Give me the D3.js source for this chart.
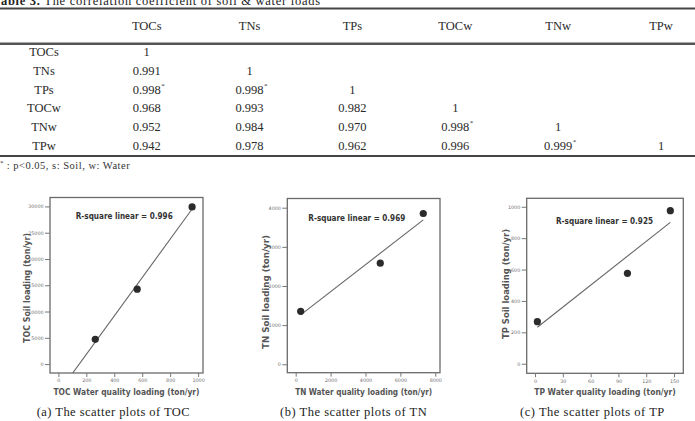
<!DOCTYPE html>
<html>
<head>
<meta charset="utf-8">
<script src="https://cdn.jsdelivr.net/npm/d3@7"></script>
<style>
  body { margin: 0; background: #fff; }
  svg { display: block; }
</style>
</head>
<body>
<div></div>
<script>
// table values
var tableVars = ["TOCs", "TNs", "TPs", "TOCw", "TNw", "TPw"];
var corr = [
  ["1"],
  ["0.991", "1"],
  ["0.998*", "0.998*", "1"],
  ["0.968", "0.993", "0.982", "1"],
  ["0.952", "0.984", "0.970", "0.998*", "1"],
  ["0.942", "0.978", "0.962", "0.996", "0.999*", "1"]
];

// scatter values (water quality loading vs soil loading, ton/yr)
var tocWater = [264, 564, 957];
var tocSoil = [4700, 14250, 29900];
var tnWater = [287, 4848, 7312];
var tnSoil = [1352, 2584, 3852];
var tpWater = [2.5, 99.7, 146];
var tpSoil = [268, 576, 975];

var rSquare = ["0.996", "0.969", "0.925"];
var names = ["TOC", "TN", "TP"];
var captions = ["(a) The scatter plots of TOC", "(b) The scatter plots of TN", "(c) The scatter plots of TP"];

// axis ticks and ranges
var tocXTicks = [0, 200, 400, 600, 800, 1000];
var tocYTicks = [0, 5000, 10000, 15000, 20000, 25000, 30000];
var tnXTicks = [0, 2000, 4000, 6000, 8000];
var tnYTicks = [0, 1000, 2000, 3000, 4000];
var tpXTicks = [0, 30, 60, 90, 120, 150];
var tpYTicks = [0, 200, 400, 600, 800, 1000];
var tocXDomain = [-60, 1035], tocYDomain = [-1700, 31700];
var tnXDomain = [-480, 8270], tnYDomain = [-215, 4235];
var tpXDomain = [-9, 160], tpYDomain = [-61, 1054];

var width = 695, height = 421;

var svg = d3.select("body").select("div").append("svg")
    .attr("width", width)
    .attr("height", height)
    .style("background", "#fff");

var serif = "'Liberation Serif', 'Times New Roman', serif";
var sans = "'DejaVu Sans', Arial, sans-serif";

// title (cut off at the top, as in the source page)
var title = svg.append("text")
    .attr("x", -7)
    .attr("y", 4.5)
    .attr("font-family", serif)
    .attr("font-size", 12.5)
    .attr("fill", "#222")
    .attr("textLength", 327)
    .attr("lengthAdjust", "spacing");
title.append("tspan").attr("font-weight", "bold").text("Table 3.");
title.append("tspan").text(" The correlation coefficient of soil & water loads");

// table rules
svg.append("line").attr("x1", 0).attr("x2", width).attr("y1", 8.5).attr("y2", 8.5)
    .attr("stroke", "#444").attr("stroke-width", 2);
svg.append("line").attr("x1", 0).attr("x2", width).attr("y1", 43.8).attr("y2", 43.8)
    .attr("stroke", "#555").attr("stroke-width", 2.6);
svg.append("line").attr("x1", 0).attr("x2", width).attr("y1", 156).attr("y2", 156)
    .attr("stroke", "#444").attr("stroke-width", 2);

var colX = d3.scalePoint().domain(tableVars).range([146.7, 661]);
var rowY = d3.scalePoint().domain(tableVars).range([53.5, 146.7]);

// header
svg.append("g").selectAll("text")
    .data(tableVars)
    .join("text")
    .attr("x", function(d) { return colX(d); })
    .attr("y", 27)
    .attr("text-anchor", "middle")
    .attr("dominant-baseline", "middle")
    .attr("font-family", serif)
    .attr("font-size", 12.5)
    .attr("fill", "#2a2a2a")
    .text(function(d) { return d; });

// row labels
svg.append("g").selectAll("text")
    .data(tableVars)
    .join("text")
    .attr("x", 44)
    .attr("y", function(d) { return rowY(d); })
    .attr("text-anchor", "middle")
    .attr("dominant-baseline", "middle")
    .attr("font-family", serif)
    .attr("font-size", 12.5)
    .attr("fill", "#2a2a2a")
    .text(function(d) { return d; });

// cells
var cells = [];
corr.forEach(function(row, i) {
  row.forEach(function(v, j) {
    cells.push({row: tableVars[i], col: tableVars[j], value: v.replace("*", ""), star: v.indexOf("*") >= 0});
  });
});
var cellG = svg.append("g").selectAll("g")
    .data(cells)
    .join("g")
    .attr("transform", function(d) { return "translate(" + colX(d.col) + "," + rowY(d.row) + ")"; });
cellG.append("text")
    .attr("text-anchor", "middle")
    .attr("dominant-baseline", "middle")
    .attr("font-family", serif)
    .attr("font-size", 12.5)
    .attr("fill", "#2a2a2a")
    .text(function(d) { return d.value; });
cellG.filter(function(d) { return d.star; })
    .append("text")
    .attr("x", 14.5)
    .attr("y", -3)
    .attr("font-family", serif)
    .attr("font-size", 7)
    .attr("fill", "#333")
    .text("*");

// footnote
svg.append("text")
    .attr("x", 0)
    .attr("y", 165)
    .attr("font-family", serif)
    .attr("font-size", 7)
    .attr("fill", "#333")
    .text("*");
svg.append("text")
    .attr("x", 6.7)
    .attr("y", 168.5)
    .attr("font-family", serif)
    .attr("font-size", 10.5)
    .attr("fill", "#333")
    .attr("textLength", 123)
    .attr("lengthAdjust", "spacing")
    .text(": p<0.05, s: Soil, w: Water");

// scatter panels
var panels = [
  {water: tocWater, soil: tocSoil, xTicks: tocXTicks, yTicks: tocYTicks, xDomain: tocXDomain, yDomain: tocYDomain,
   frame: [50, 197.5, 203, 373], fitFromAxis: true, r2At: [75.7, 216], ylabX: 27, ylabY: 288, ylabLen: 110, xlabLen: 146, capX: 36.7, capLen: 153},
  {water: tnWater, soil: tnSoil, xTicks: tnXTicks, yTicks: tnYTicks, xDomain: tnXDomain, yDomain: tnYDomain,
   frame: [287.3, 198.5, 440, 372.7], fitFromAxis: false, r2At: [308.3, 218], ylabX: 266.7, ylabY: 292, ylabLen: 114, xlabLen: 137, capX: 280, capLen: 146.7},
  {water: tpWater, soil: tpSoil, xTicks: tpXTicks, yTicks: tpYTicks, xDomain: tpXDomain, yDomain: tpYDomain,
   frame: [526.7, 198.3, 683.3, 373.3], fitFromAxis: false, r2At: [556, 221], ylabX: 506.7, ylabY: 284, ylabLen: 110, xlabLen: 141.6, capX: 520, capLen: 144.3}
];

panels.forEach(function(p, k) {
  var f = p.frame;
  var x = d3.scaleLinear().domain(p.xDomain).range([f[0], f[2]]);
  var y = d3.scaleLinear().domain(p.yDomain).range([f[3], f[1]]);
  var g = svg.append("g");

  // clip
  g.append("clipPath").attr("id", "clip" + k)
    .append("rect")
    .attr("x", f[0]).attr("y", f[1])
    .attr("width", f[2] - f[0]).attr("height", f[3] - f[1]);

  // frame
  g.append("rect")
    .attr("x", f[0]).attr("y", f[1])
    .attr("width", f[2] - f[0]).attr("height", f[3] - f[1])
    .attr("fill", "none")
    .attr("stroke", "#6a6a6a")
    .attr("stroke-width", 1.3);

  // axes
  var xAxis = g.append("g")
    .attr("transform", "translate(0," + f[3] + ")")
    .call(d3.axisBottom(x).tickValues(p.xTicks).tickSize(4).tickPadding(2).tickFormat(d3.format("d")));
  var yAxis = g.append("g")
    .attr("transform", "translate(" + f[0] + ",0)")
    .call(d3.axisLeft(y).tickValues(p.yTicks).tickSize(5).tickPadding(1.5).tickFormat(d3.format("d")));
  [xAxis, yAxis].forEach(function(a) {
    a.select(".domain").remove();
    a.selectAll("line").attr("stroke", "#777");
    a.selectAll("text").attr("fill", "#6e6e6e").attr("font-family", sans).attr("font-size", 4.8);
  });

  // least squares fit
  var mx = d3.mean(p.water), my = d3.mean(p.soil);
  var sxy = d3.sum(p.water, function(v, i) { return (v - mx) * (p.soil[i] - my); });
  var sxx = d3.sum(p.water, function(v) { return (v - mx) * (v - mx); });
  var slope = sxy / sxx, icpt = my - slope * mx;
  var x0 = p.fitFromAxis ? p.xDomain[0] : d3.min(p.water);
  var x1 = d3.max(p.water);
  g.append("line")
    .attr("clip-path", "url(#clip" + k + ")")
    .attr("x1", x(x0)).attr("y1", y(icpt + slope * x0))
    .attr("x2", x(x1)).attr("y2", y(icpt + slope * x1))
    .attr("stroke", "#666")
    .attr("stroke-width", 1.1);

  // points
  g.selectAll("circle")
    .data(p.water)
    .join("circle")
    .attr("cx", function(d) { return x(d); })
    .attr("cy", function(d, i) { return y(p.soil[i]); })
    .attr("r", 3.6)
    .attr("fill", "#2b2b2b");

  // R-square label
  g.append("text")
    .attr("x", p.r2At[0])
    .attr("y", p.r2At[1])
    .attr("dominant-baseline", "middle")
    .attr("font-family", sans)
    .attr("font-weight", "bold")
    .attr("font-size", 8.5)
    .attr("fill", "#333")
    .attr("textLength", 97)
    .attr("lengthAdjust", "spacingAndGlyphs")
    .text("R-square linear = " + rSquare[k]);

  // axis titles
  g.append("text")
    .attr("x", (f[0] + f[2]) / 2)
    .attr("y", 392)
    .attr("text-anchor", "middle")
    .attr("dominant-baseline", "middle")
    .attr("font-family", sans)
    .attr("font-weight", "bold")
    .attr("font-size", 8.5)
    .attr("fill", "#555")
    .attr("textLength", p.xlabLen)
    .attr("lengthAdjust", "spacingAndGlyphs")
    .text(names[k] + " Water quality loading (ton/yr)");
  g.append("text")
    .attr("transform", "translate(" + p.ylabX + "," + p.ylabY + ") rotate(-90)")
    .attr("text-anchor", "middle")
    .attr("dominant-baseline", "middle")
    .attr("font-family", sans)
    .attr("font-weight", "bold")
    .attr("font-size", 8.5)
    .attr("fill", "#555")
    .attr("textLength", p.ylabLen)
    .attr("lengthAdjust", "spacingAndGlyphs")
    .text(names[k] + " Soil loading (ton/yr)");

  // caption
  g.append("text")
    .attr("x", p.capX)
    .attr("y", 416)
    .attr("font-family", serif)
    .attr("font-size", 12.5)
    .attr("fill", "#222")
    .attr("textLength", p.capLen)
    .attr("lengthAdjust", "spacing")
    .text(captions[k]);
});
</script>
</body>
</html>
